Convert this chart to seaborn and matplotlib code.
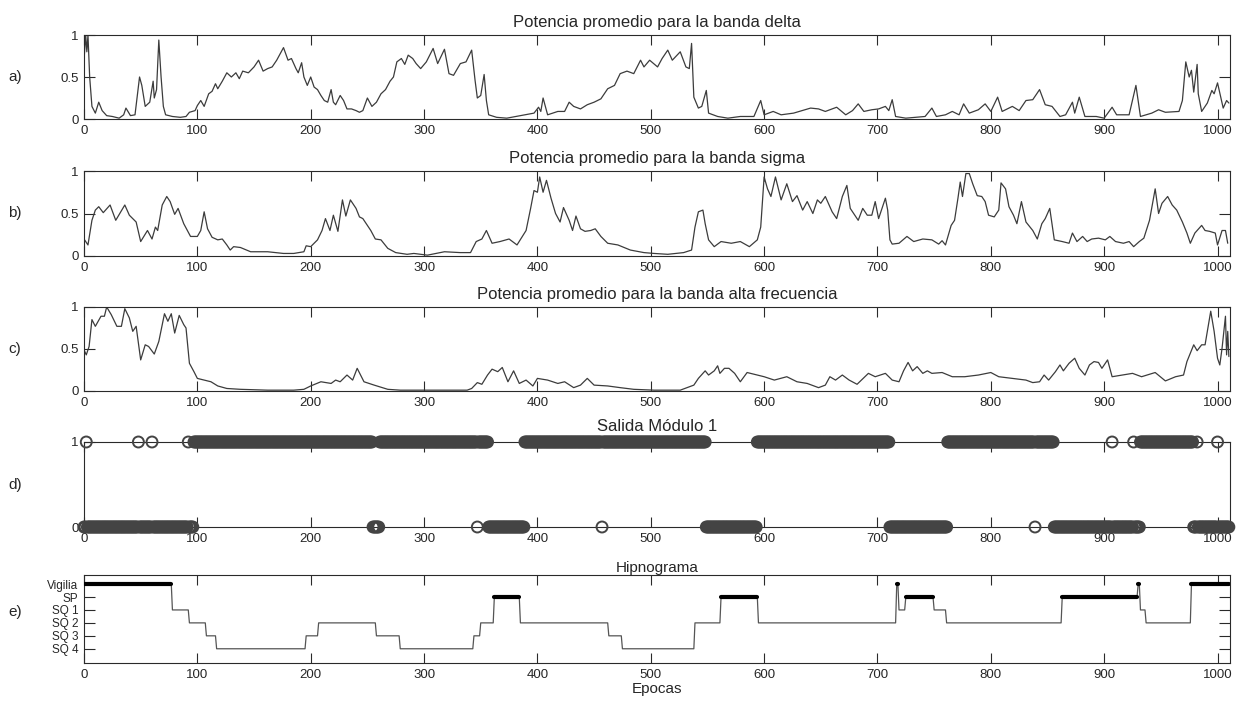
import numpy as np
import matplotlib
matplotlib.use('Agg')
import matplotlib.pyplot as plt
import seaborn as sns

# ---------------------------------------------------------------
# Data
# ---------------------------------------------------------------
N_EPOCHS = 1011

# a) average power, delta band
delta_x = [0, 1.5, 2.5, 3.5, 5, 7, 10, 13, 16, 20, 25, 31, 35, 37, 41, 45, 49, 51, 54, 58,
           61, 62, 64, 66, 68, 70, 72, 78, 85, 90, 93, 98, 100, 103, 106, 110, 113, 116, 118, 122,
           126, 130, 134, 137, 140, 145, 150, 154, 158, 162, 166, 170, 176, 180, 183, 187, 189, 192, 194, 197,
           200, 203, 206, 209, 212, 215, 218, 220, 222, 226, 229, 232, 236, 240, 243, 246, 250, 254, 258, 262,
           266, 270, 273, 276, 280, 283, 286, 290, 293, 297, 302, 308, 312, 318, 322, 326, 332, 337, 342, 345,
           347, 350, 353, 355, 357, 364, 373, 385, 397, 401, 403, 405, 409, 418, 424, 428, 432, 438, 444, 450,
           456, 462, 468, 473, 479, 485, 491, 494, 499, 506, 510, 515, 519, 526, 531, 534, 536, 538, 542, 545,
           549, 551, 559, 568, 579, 591, 597, 600, 608, 615, 626, 641, 648, 654, 664, 672, 678, 683, 688, 695,
           701, 707, 710, 713, 716, 725, 742, 748, 752, 760, 766, 772, 776, 781, 789, 795, 800, 806, 810, 819,
           825, 831, 837, 843, 848, 854, 861, 866, 872, 874, 878, 883, 893, 900, 907, 911, 922, 928, 932, 942,
           948, 954, 966, 969, 972, 975, 977, 979, 982, 983, 986, 991, 995, 997, 1000, 1005, 1008, 1010]
delta_y = [0.70, 1.00, 0.80, 1.00, 0.50, 0.15, 0.07, 0.20, 0.10, 0.04, 0.03, 0.01, 0.05, 0.13, 0.04, 0.05, 0.50, 0.40, 0.15, 0.20,
           0.45, 0.25, 0.35, 0.94, 0.50, 0.15, 0.05, 0.03, 0.02, 0.03, 0.08, 0.10, 0.16, 0.22, 0.15, 0.30, 0.33, 0.42, 0.36, 0.45,
           0.55, 0.50, 0.55, 0.48, 0.57, 0.55, 0.62, 0.70, 0.57, 0.60, 0.62, 0.70, 0.85, 0.70, 0.72, 0.60, 0.55, 0.67, 0.50, 0.40,
           0.50, 0.38, 0.35, 0.28, 0.22, 0.20, 0.35, 0.20, 0.17, 0.28, 0.22, 0.12, 0.12, 0.10, 0.08, 0.10, 0.25, 0.15, 0.20, 0.30,
           0.35, 0.45, 0.50, 0.68, 0.72, 0.65, 0.76, 0.72, 0.66, 0.60, 0.68, 0.84, 0.66, 0.83, 0.54, 0.52, 0.66, 0.68, 0.82, 0.46,
           0.25, 0.28, 0.53, 0.22, 0.05, 0.02, 0.01, 0.04, 0.07, 0.14, 0.09, 0.25, 0.05, 0.09, 0.09, 0.20, 0.15, 0.12, 0.17, 0.20,
           0.24, 0.36, 0.40, 0.54, 0.57, 0.54, 0.70, 0.62, 0.70, 0.62, 0.72, 0.82, 0.70, 0.80, 0.62, 0.60, 0.90, 0.26, 0.13, 0.15,
           0.34, 0.07, 0.03, 0.01, 0.03, 0.03, 0.22, 0.05, 0.09, 0.05, 0.07, 0.13, 0.12, 0.09, 0.14, 0.05, 0.10, 0.18, 0.09, 0.11,
           0.12, 0.15, 0.10, 0.23, 0.03, 0.01, 0.03, 0.13, 0.03, 0.05, 0.09, 0.05, 0.18, 0.07, 0.11, 0.18, 0.09, 0.26, 0.09, 0.15,
           0.10, 0.22, 0.23, 0.35, 0.17, 0.15, 0.03, 0.05, 0.20, 0.07, 0.26, 0.03, 0.03, 0.01, 0.14, 0.05, 0.05, 0.40, 0.03, 0.07,
           0.11, 0.08, 0.09, 0.22, 0.68, 0.50, 0.58, 0.32, 0.65, 0.30, 0.09, 0.19, 0.34, 0.30, 0.43, 0.13, 0.22, 0.19]

# b) average power, sigma band
sigma_x = [0, 3.5, 7, 10, 13, 17, 23, 28, 36, 40, 46, 50, 56, 60, 63, 65, 69, 73, 76, 80,
           83, 88, 94, 100, 103, 106, 109, 113, 118, 122, 126, 129, 132, 138, 147, 162, 176, 185, 194, 196,
           200, 206, 210, 213, 217, 220, 224, 228, 231, 235, 240, 243, 246, 250, 253, 257, 262, 268, 275, 285,
           291, 303, 318, 332, 341, 346, 351, 355, 360, 367, 375, 382, 390, 394, 397, 400, 402, 405, 408, 412,
           416, 420, 423, 428, 431, 434, 438, 442, 447, 451, 456, 462, 471, 482, 494, 503, 515, 529, 536, 539,
           542, 546, 548, 551, 556, 562, 571, 579, 587, 594, 597, 600, 603, 606, 610, 615, 620, 625, 629, 634,
           638, 643, 647, 650, 654, 660, 664, 669, 673, 676, 681, 683, 687, 691, 695, 698, 701, 707, 709, 711,
           713, 719, 726, 732, 740, 748, 754, 757, 760, 765, 768, 771, 773, 775, 778, 781, 784, 788, 792, 795,
           798, 803, 807, 809, 813, 816, 820, 823, 827, 831, 837, 841, 845, 848, 852, 856, 863, 869, 872, 876,
           881, 885, 889, 895, 901, 905, 910, 917, 922, 926, 931, 935, 940, 945, 948, 951, 956, 960, 964, 969,
           973, 976, 980, 986, 989, 993, 998, 1000, 1004, 1007, 1009]
sigma_y = [0.20, 0.13, 0.42, 0.54, 0.58, 0.51, 0.60, 0.42, 0.60, 0.48, 0.40, 0.17, 0.30, 0.20, 0.34, 0.30, 0.60, 0.70, 0.64, 0.49,
           0.56, 0.38, 0.23, 0.23, 0.30, 0.52, 0.32, 0.22, 0.19, 0.20, 0.13, 0.07, 0.11, 0.10, 0.05, 0.05, 0.03, 0.03, 0.05, 0.12,
           0.11, 0.19, 0.30, 0.44, 0.30, 0.48, 0.29, 0.66, 0.47, 0.66, 0.56, 0.46, 0.44, 0.36, 0.30, 0.20, 0.19, 0.09, 0.04, 0.02,
           0.03, 0.01, 0.05, 0.04, 0.04, 0.17, 0.20, 0.30, 0.15, 0.17, 0.20, 0.13, 0.30, 0.56, 0.77, 0.75, 0.93, 0.75, 0.89, 0.68,
           0.50, 0.40, 0.57, 0.42, 0.30, 0.47, 0.32, 0.29, 0.30, 0.32, 0.23, 0.15, 0.13, 0.07, 0.04, 0.03, 0.02, 0.04, 0.07, 0.34,
           0.52, 0.54, 0.38, 0.19, 0.11, 0.17, 0.15, 0.17, 0.11, 0.19, 0.34, 0.93, 0.79, 0.70, 0.93, 0.66, 0.85, 0.64, 0.71, 0.54,
           0.64, 0.50, 0.66, 0.62, 0.70, 0.52, 0.44, 0.70, 0.83, 0.56, 0.46, 0.42, 0.56, 0.48, 0.48, 0.64, 0.44, 0.68, 0.54, 0.19,
           0.14, 0.15, 0.23, 0.17, 0.20, 0.19, 0.14, 0.18, 0.13, 0.36, 0.42, 0.68, 0.87, 0.70, 0.97, 0.97, 0.85, 0.71, 0.70, 0.64,
           0.48, 0.46, 0.54, 0.86, 0.79, 0.58, 0.48, 0.38, 0.64, 0.40, 0.30, 0.20, 0.38, 0.44, 0.56, 0.19, 0.17, 0.15, 0.27, 0.17,
           0.23, 0.17, 0.20, 0.21, 0.19, 0.23, 0.17, 0.15, 0.17, 0.11, 0.17, 0.21, 0.42, 0.79, 0.50, 0.62, 0.70, 0.60, 0.54, 0.40,
           0.27, 0.15, 0.27, 0.36, 0.30, 0.29, 0.27, 0.13, 0.30, 0.30, 0.15]

# c) average power, high frequency band
alta_x = [0, 2, 4.5, 7, 10, 15, 18, 20, 24, 29, 33, 36, 40, 43, 46, 50, 54, 57, 62, 66,
          71, 74, 77, 80, 84, 88, 90, 93, 97, 100, 106, 112, 118, 126, 138, 162, 185, 194, 200, 209,
          218, 222, 226, 232, 237, 241, 247, 256, 268, 279, 297, 338, 342, 347, 351, 356, 360, 365, 369, 374,
          379, 384, 390, 396, 400, 409, 418, 424, 432, 438, 444, 450, 462, 473, 485, 503, 526, 538, 542, 548,
          551, 556, 559, 561, 565, 569, 574, 579, 585, 591, 600, 609, 620, 629, 638, 648, 654, 658, 663, 669,
          675, 682, 692, 698, 707, 713, 719, 723, 727, 731, 735, 740, 744, 748, 757, 766, 777, 789, 800, 807,
          819, 831, 837, 843, 847, 851, 857, 861, 864, 869, 874, 878, 883, 887, 891, 895, 898, 903, 907, 916,
          925, 933, 945, 954, 963, 970, 973, 979, 982, 986, 989, 994, 997, 1000, 1002, 1004, 1007, 1008, 1009, 1010]
alta_y = [0.49, 0.43, 0.53, 0.85, 0.77, 0.89, 0.89, 1.00, 0.91, 0.77, 0.77, 0.98, 0.87, 0.71, 0.77, 0.37, 0.55, 0.53, 0.44, 0.59,
          0.92, 0.83, 0.92, 0.69, 0.90, 0.79, 0.75, 0.33, 0.23, 0.15, 0.13, 0.11, 0.06, 0.03, 0.02, 0.01, 0.01, 0.02, 0.06, 0.11,
          0.09, 0.13, 0.11, 0.19, 0.13, 0.27, 0.11, 0.07, 0.02, 0.01, 0.01, 0.01, 0.03, 0.10, 0.08, 0.19, 0.26, 0.23, 0.28, 0.11,
          0.24, 0.09, 0.13, 0.06, 0.15, 0.13, 0.09, 0.11, 0.04, 0.07, 0.15, 0.07, 0.06, 0.04, 0.02, 0.01, 0.01, 0.07, 0.15, 0.24,
          0.19, 0.24, 0.30, 0.21, 0.27, 0.27, 0.21, 0.11, 0.22, 0.20, 0.17, 0.13, 0.17, 0.11, 0.09, 0.04, 0.07, 0.17, 0.13, 0.19,
          0.13, 0.08, 0.21, 0.17, 0.21, 0.13, 0.11, 0.24, 0.34, 0.24, 0.29, 0.21, 0.24, 0.21, 0.22, 0.17, 0.17, 0.19, 0.22, 0.17,
          0.15, 0.13, 0.10, 0.11, 0.19, 0.13, 0.23, 0.31, 0.24, 0.33, 0.39, 0.27, 0.19, 0.31, 0.35, 0.34, 0.27, 0.37, 0.17, 0.19,
          0.21, 0.17, 0.22, 0.12, 0.17, 0.19, 0.35, 0.55, 0.48, 0.55, 0.55, 0.95, 0.71, 0.39, 0.31, 0.51, 0.89, 0.43, 0.71, 0.41]

# d) output of module 1 (run starts and value of each run)
mod1_start = [0, 2, 3, 48, 49, 60, 61, 92, 93, 97, 255, 261, 347, 348, 357, 389, 457, 458, 549, 594,
              711, 762, 839, 840, 856, 907, 908, 926, 927, 932, 979, 982, 983, 1000, 1001]
mod1_value = [0, 1, 0, 1, 0, 1, 0, 1, 0, 1, 0, 1, 0, 1, 0, 1, 0, 1, 0, 1,
              0, 1, 0, 1, 0, 1, 0, 1, 0, 1, 0, 1, 0, 1, 0]

# e) hypnogram (run starts and sleep stage of each run)
stage_names = ['SQ 4', 'SQ 3', 'SQ 2', 'SQ 1', 'SP', 'Vigilia']
stage_codes = [1, 2, 3, 4, 5, 6]
hyp_start = [0, 78, 93, 108, 117, 196, 207, 258, 279, 344, 350, 362, 385, 463, 475, 539, 562, 595,
             717, 719, 725, 750, 761, 863, 930, 932, 937, 977]
hyp_stage = [6, 4, 3, 2, 1, 2, 3, 2, 1, 2, 3, 5, 3, 2, 1, 3, 5, 3,
             6, 4, 5, 4, 3, 5, 6, 4, 3, 6]

panel_titles = ['Potencia promedio para la banda delta',
                'Potencia promedio para la banda sigma',
                'Potencia promedio para la banda alta frecuencia',
                'Salida Módulo 1',
                'Hipnograma']
panel_letters = ['a)', 'b)', 'c)', 'd)', 'e)']


def expand_runs(starts, values, n_epochs):
    """Turn run starts + run values into one value per epoch."""
    lengths = np.diff(list(starts) + [n_epochs])
    return np.repeat(values, lengths)


sns.set_style('ticks')
plt.rcParams['font.family'] = ['Liberation Sans', 'DejaVu Sans']
plt.rcParams['axes.linewidth'] = 0.8

LINE_COLOR = '#3c3c3c'
AXIS_COLOR = '#2a2a2a'
NARROW = ['Liberation Sans Narrow', 'Liberation Sans', 'DejaVu Sans']

fig = plt.figure(figsize=(12.46, 7.02), dpi=100)

W, H = 1246.0, 702.0
left, right = 84 / W, 1230 / W
# (top px, bottom px) of each axes box
boxes = [(35, 119), (171, 256), (307, 391), (442, 527), (575, 663)]
axes = []
for top, bottom in boxes:
    ax = fig.add_axes([left, 1 - bottom / H, right - left, (bottom - top) / H])
    axes.append(ax)


def matlab_axes(ax, ylim, yticks, yticklabels, narrow=False):
    ax.set_xlim(0, N_EPOCHS)
    ax.set_ylim(*ylim)
    ax.set_xticks(range(0, 1001, 100))
    ax.set_yticks(yticks)
    ax.set_yticklabels(yticklabels)
    ax.tick_params(axis='x', direction='in', top=True, bottom=True, length=7,
                   width=0.8, pad=4, labelsize=9.5, color=AXIS_COLOR)
    ax.tick_params(axis='y', direction='in', left=True, right=True, length=8,
                   width=0.8, pad=4, labelsize=9.5, color=AXIS_COLOR)
    for sp in ax.spines.values():
        sp.set_visible(True)
        sp.set_color(AXIS_COLOR)
        sp.set_linewidth(0.8)
    ax.set_xlabel('')
    ax.set_ylabel('')
    if narrow:
        for lab in ax.get_xticklabels() + ax.get_yticklabels():
            lab.set_fontfamily(NARROW)


# a) b) c) power curves
curves = [(delta_x, delta_y), (sigma_x, sigma_y), (alta_x, alta_y)]
for ax, (xs, ys), title in zip(axes[:3], curves, panel_titles[:3]):
    sns.lineplot(x=xs, y=ys, ax=ax, color=LINE_COLOR, linewidth=0.9,
                 estimator=None, sort=False)
    matlab_axes(ax, (0, 1), [0, 0.5, 1], ['0', '0.5', '1'])
    ax.set_title(title, fontsize=12, pad=6)

# d) module output: open circles at every epoch
epochs = np.arange(N_EPOCHS)
mod1 = expand_runs(mod1_start, mod1_value, N_EPOCHS)
ax = axes[3]
sns.scatterplot(x=epochs, y=mod1, ax=ax, marker='o', s=62,
                facecolors='none', edgecolor='#444444', linewidth=1.4,
                clip_on=False, zorder=3)
matlab_axes(ax, (0, 1), [0, 1], ['0', '1'])
ax.set_title(panel_titles[3], fontsize=12, pad=8)

# e) hypnogram: thin grey trace, wake / REM epochs drawn thick in black
hyp = expand_runs(hyp_start, hyp_stage, N_EPOCHS)
ax = axes[4]
sns.lineplot(x=epochs, y=hyp, ax=ax, color='#555555', linewidth=0.9,
             estimator=None, sort=False)
for i, (start, stage) in enumerate(zip(hyp_start, hyp_stage)):
    if stage < 5:
        continue
    end = hyp_start[i + 1] - 1 if i + 1 < len(hyp_start) else N_EPOCHS - 1
    run_x = epochs[start:end + 1]
    if len(run_x) > 1:
        sns.lineplot(x=run_x, y=hyp[start:end + 1], ax=ax, color='black',
                     linewidth=3.0, estimator=None, sort=False, zorder=3)
    else:
        sns.scatterplot(x=run_x, y=hyp[start:end + 1], ax=ax, color='black',
                        s=10, linewidth=0, zorder=3)
matlab_axes(ax, (-0.1, 6.7), stage_codes, stage_names, narrow=True)
ax.tick_params(axis='y', labelsize=8.5)
ax.set_title(panel_titles[4], fontsize=11, pad=2, fontfamily=NARROW)
ax.set_xlabel('Epocas', fontsize=11, labelpad=1, fontfamily=NARROW)

# panel letters
for (top, bottom), letter in zip(boxes, panel_letters):
    yc = 1 - (top + bottom) / 2 / H
    if letter == 'e)':
        yc = 1 - 612 / H
    fig.text(8 / W, yc, letter, fontsize=11, ha='left', va='center')

fig.savefig('out.png', dpi=100)
plt.close(fig)
